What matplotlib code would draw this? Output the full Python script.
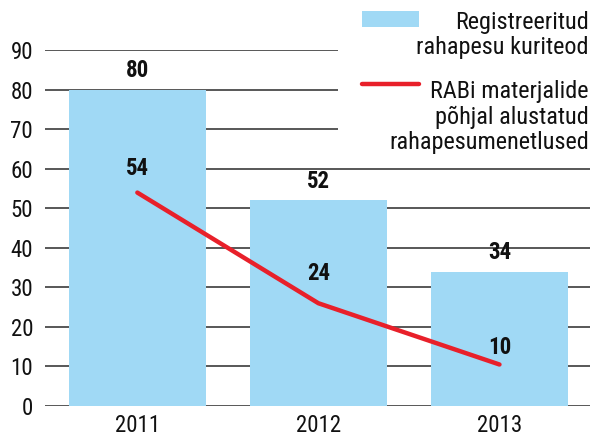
import matplotlib
matplotlib.use("Agg")
import matplotlib.pyplot as plt
from matplotlib.patches import Rectangle
from matplotlib.lines import Line2D

# ---- data ----
years = ["2011", "2012", "2013"]
registered = [80, 52, 34]
registered_labels = ["80", "52", "34"]
proceedings = [54, 26, 10.5]
proceedings_labels = ["54", "24", "10"]
yticks = [0, 10, 20, 30, 40, 50, 60, 70, 80, 90]
legend_bar = "Registreeritud\nrahapesu kuriteod"
legend_line = "RABi materjalide\npõhjal alustatud\nrahapesumenetlused"

BLUE = "#a0d9f5"
RED = "#e8202a"
GRID = "#4a4a4a"
FONT = ["Roboto Condensed", "Archivo Narrow", "DejaVu Sans"]
plt.rcParams["font.family"] = FONT

W, H = 594, 436
fig = plt.figure(figsize=(W / 100, H / 100), dpi=100)

def fx(px):
    return px / W

def fy(py):
    return 1 - py / H

ax = fig.add_axes([fx(45), fy(406), fx(590) - fx(45), fy(50.3) - fy(406)])
x = list(range(len(years)))

ax.set_ylim(0, 90)
ax.set_xlim(-0.51, 2.5)
ax.set_yticks(yticks)
ax.set_xticks(x)
ax.set_xticklabels(years)
ax.tick_params(axis="both", length=0, labelsize=16.5, colors="#111111")
ax.tick_params(axis="y", pad=8.6)
ax.tick_params(axis="x", pad=5.5)
for s in ax.spines.values():
    s.set_visible(False)
ax.yaxis.grid(True, color=GRID, linewidth=1.3)
ax.set_axisbelow(True)

ax.bar(x, registered, width=0.757, color=BLUE, zorder=2)
ax.plot(x, proceedings, color=RED, linewidth=3.2, solid_capstyle="round",
        solid_joinstyle="round", zorder=3)

for xi, v, lab in zip(x, registered, registered_labels):
    ax.annotate(lab, (xi, v), xytext=(0, 14), textcoords="offset points",
                ha="center", va="center", fontsize=16.5, fontweight="bold",
                color="#111111", zorder=4)

line_offsets = [17.5, 21.5, 12.5]
for xi, v, lab, off in zip(x, proceedings, proceedings_labels, line_offsets):
    ax.annotate(lab, (xi, v), xytext=(0, off), textcoords="offset points",
                ha="center", va="center", fontsize=16.5, fontweight="bold",
                color="#111111", zorder=4)

# legend area (white background covering the upper gridlines)
fig.patches.append(Rectangle((fx(338), fy(150)), 1 - fx(338), fy(0) - fy(150),
                             transform=fig.transFigure, facecolor="white",
                             edgecolor="none", zorder=5))
fig.patches.append(Rectangle((fx(362), fy(27)), fx(419) - fx(362), fy(11) - fy(27),
                             transform=fig.transFigure, facecolor=BLUE,
                             edgecolor="none", zorder=6))
fig.lines.append(Line2D([fx(362), fx(419)], [fy(84), fy(84)],
                        transform=fig.transFigure, color=RED, linewidth=3.2,
                        solid_capstyle="round", zorder=6))
fig.text(fx(589), fy(35), legend_bar, ha="right", va="center",
         multialignment="right", fontsize=17.5, color="#111111",
         linespacing=1.12, zorder=7)
fig.text(fx(589), fy(117), legend_line, ha="right", va="center",
         multialignment="right", fontsize=17.5, color="#111111",
         linespacing=1.12, zorder=7)

fig.savefig("out.png", dpi=100)
